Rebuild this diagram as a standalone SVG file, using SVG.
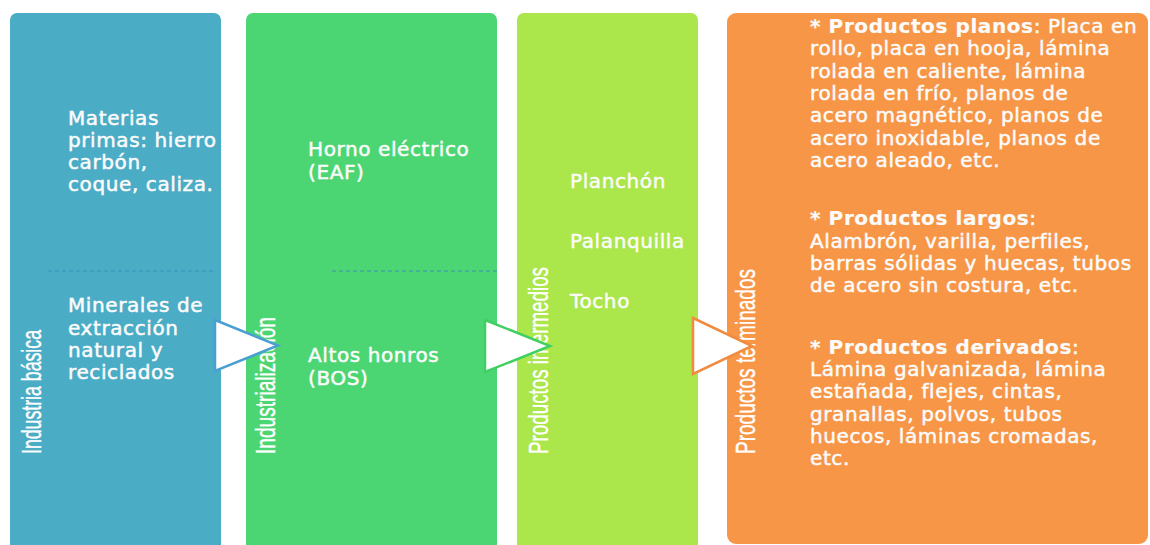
<svg xmlns="http://www.w3.org/2000/svg" width="1150" height="545" viewBox="0 0 1150 545">
<style>
.t{font-family:"DejaVu Sans",sans-serif;font-size:20px;letter-spacing:0.6px;fill:#fbfbfb;stroke:#fbfbfb;stroke-width:0.5px}
.b{font-weight:bold;stroke-width:0.2px}
.v{font-family:"Liberation Sans",Arial,sans-serif;font-size:28px;fill:#ffffff;stroke:#ffffff;stroke-width:0.4px}
.dash{stroke:#3a90b8;stroke-width:1.2;stroke-dasharray:4 3;fill:none}
.arr{fill:#ffffff;stroke-width:2.5;stroke-linejoin:miter}
</style>
<rect width="1150" height="545" fill="#ffffff"/>
<g id="node-industria-basica">
<rect x="10" y="13" width="211" height="545" rx="7" fill="#4bacc6"/>
<text class="v" transform="translate(41,454) rotate(-90)" textLength="124" lengthAdjust="spacingAndGlyphs">Industria básica</text>
<line class="dash" x1="48" y1="271" x2="216" y2="271"/>
<text class="t" x="68" y="125">Materias</text>
<text class="t" x="68" y="147">primas: hierro</text>
<text class="t" x="68" y="169">carbón,</text>
<text class="t" x="68" y="191">coque, caliza.</text>
<text class="t" x="68" y="312">Minerales de</text>
<text class="t" x="68" y="335">extracción</text>
<text class="t" x="68" y="357">natural y</text>
<text class="t" x="68" y="379">reciclados</text>
</g>
<g id="node-industrializacion">
<rect x="246" y="13" width="251" height="545" rx="7" fill="#4cd673"/>
<text class="v" transform="translate(275,454) rotate(-90)" textLength="137" lengthAdjust="spacingAndGlyphs">Industrialización</text>
<line class="dash" x1="332" y1="271" x2="497" y2="271"/>
<text class="t" x="308" y="156">Horno eléctrico</text>
<text class="t" x="308" y="179">(EAF)</text>
<text class="t" x="308" y="362">Altos honros</text>
<text class="t" x="308" y="385">(BOS)</text>
</g>
<g id="node-productos-intermedios">
<rect x="517" y="13" width="181" height="545" rx="7" fill="#abe64b"/>
<text class="v" transform="translate(548,454) rotate(-90)" textLength="187" lengthAdjust="spacingAndGlyphs">Productos intermedios</text>
<text class="t" x="570" y="188">Planchón</text>
<text class="t" x="570" y="248">Palanquilla</text>
<text class="t" x="570" y="308">Tocho</text>
</g>
<g id="node-productos-terminados">
<rect x="727" y="13" width="421" height="531" rx="9" fill="#f79646"/>
<text class="v" transform="translate(755,454) rotate(-90)" textLength="185" lengthAdjust="spacingAndGlyphs">Productos terminados</text>
<text class="t" x="810" y="33"><tspan class="b">* Productos planos</tspan>: Placa en</text>
<text class="t" x="810" y="55">rollo, placa en hooja, lámina</text>
<text class="t" x="810" y="78">rolada en caliente, lámina</text>
<text class="t" x="810" y="100">rolada en frío, planos de</text>
<text class="t" x="810" y="122">acero magnético, planos de</text>
<text class="t" x="810" y="145">acero inoxidable, planos de</text>
<text class="t" x="810" y="167">acero aleado, etc.</text>
<text class="t" x="810" y="225"><tspan class="b">* Productos largos</tspan>:</text>
<text class="t" x="810" y="248">Alambrón, varilla, perfiles,</text>
<text class="t" x="810" y="270">barras sólidas y huecas, tubos</text>
<text class="t" x="810" y="292">de acero sin costura, etc.</text>
<text class="t" x="810" y="354"><tspan class="b">* Productos derivados</tspan>:</text>
<text class="t" x="810" y="376">Lámina galvanizada, lámina</text>
<text class="t" x="810" y="398">estañada, flejes, cintas,</text>
<text class="t" x="810" y="421">granallas, polvos, tubos</text>
<text class="t" x="810" y="443">huecos, láminas cromadas,</text>
<text class="t" x="810" y="465">etc.</text>
</g>
<g id="connectors">
<polygon class="arr" points="215,320 278,345.5 215,371" stroke="#4a9fd2"/>
<polygon class="arr" points="485,320 550,346 485,372" stroke="#40d062"/>
<polygon class="arr" points="693,318 752,346 693,374" stroke="#f08b3f"/>
</g>
</svg>
